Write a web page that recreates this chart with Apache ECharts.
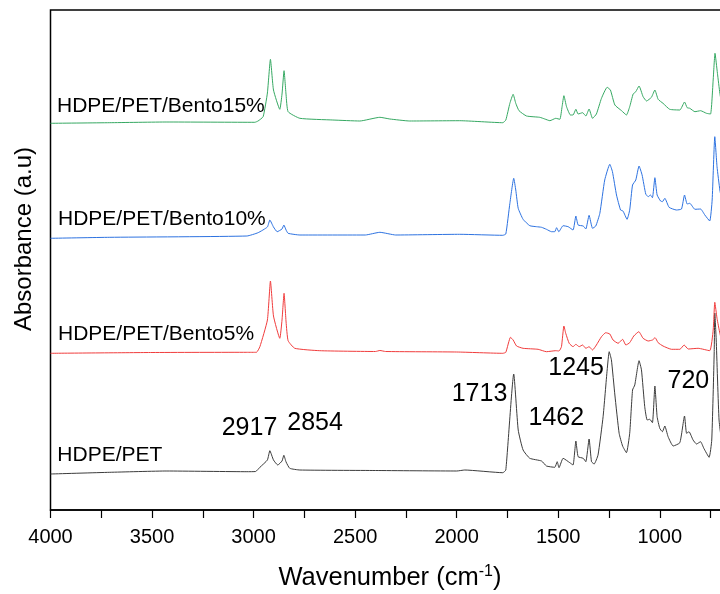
<!DOCTYPE html>
<html>
<head>
<meta charset="utf-8">
<script src="https://cdn.jsdelivr.net/npm/echarts@6/dist/echarts.min.js"></script>
<style>
  html, body { margin: 0; padding: 0; background: #fff; }
  #chart { width: 720px; height: 594px; }
</style>
</head>
<body>
<div id="chart"></div>
<script>
// FTIR spectra, stacked with offsets (a.u.)
const blackWn = [4000, 3708, 3427, 3033, 2990, 2969, 2932, 2920, 2902, 2881, 2860, 2851, 2840, 2822, 2772, 2400, 2000, 1960, 1773, 1758, 1719, 1697, 1673, 1640, 1582, 1558, 1517, 1505, 1496, 1476, 1443, 1427, 1413, 1402, 1377, 1364, 1348, 1336, 1323, 1304, 1279, 1259, 1249, 1238, 1221, 1200, 1183, 1164, 1148, 1134, 1123, 1102, 1090, 1074, 1062, 1049, 1036, 1024, 1013, 1000, 987, 975, 959, 934, 901, 878, 868, 856, 836, 819, 799, 783, 757, 744, 732, 729, 722, 708, 690];
const blackAbs = [0.36, 0.377, 0.39, 0.383, 0.385, 0.427, 0.50, 0.593, 0.50, 0.45, 0.49, 0.547, 0.48, 0.417, 0.40, 0.395, 0.39, 0.40, 0.373, 0.40, 1.36, 0.80, 0.60, 0.517, 0.49, 0.44, 0.427, 0.483, 0.423, 0.517, 0.473, 0.45, 0.69, 0.533, 0.517, 0.483, 0.71, 0.483, 0.46, 0.55, 0.933, 1.40, 1.583, 1.50, 1.15, 0.767, 0.64, 0.573, 0.767, 1.20, 1.25, 1.493, 1.40, 1.033, 0.90, 0.907, 0.873, 1.24, 0.933, 0.817, 0.783, 0.84, 0.733, 0.64, 0.673, 0.94, 0.767, 0.783, 0.70, 0.66, 0.683, 0.617, 0.527, 0.70, 1.57, 1.97, 1.70, 0.90, 0.6];

const redWn = [4000, 3500, 3033, 2986, 2969, 2932, 2917, 2902, 2871, 2860, 2850, 2840, 2830, 2797, 2674, 2400, 2378, 2350, 2000, 1773, 1758, 1735, 1722, 1705, 1673, 1599, 1558, 1512, 1496, 1484, 1472, 1463, 1446, 1427, 1413, 1397, 1380, 1364, 1348, 1331, 1312, 1287, 1266, 1246, 1230, 1205, 1183, 1167, 1148, 1128, 1103, 1082, 1057, 1036, 1023, 1008, 984, 942, 901, 880, 860, 811, 754, 737, 729, 718, 704, 690];
const redAbs = [1.567, 1.575, 1.577, 1.577, 1.633, 1.90, 2.29, 1.94, 1.717, 1.90, 2.167, 1.88, 1.693, 1.617, 1.593, 1.585, 1.595, 1.585, 1.58, 1.567, 1.577, 1.727, 1.70, 1.64, 1.617, 1.607, 1.583, 1.593, 1.59, 1.633, 1.84, 1.767, 1.667, 1.633, 1.657, 1.633, 1.65, 1.617, 1.633, 1.60, 1.65, 1.733, 1.773, 1.76, 1.70, 1.667, 1.707, 1.65, 1.673, 1.74, 1.783, 1.717, 1.69, 1.70, 1.723, 1.673, 1.64, 1.607, 1.607, 1.65, 1.61, 1.617, 1.593, 1.80, 2.077, 1.917, 1.767, 1.65];

const blueWn = [4000, 3708, 3033, 2978, 2932, 2920, 2902, 2884, 2860, 2851, 2840, 2830, 2772, 2450, 2378, 2300, 1985, 1773, 1758, 1738, 1719, 1709, 1697, 1673, 1640, 1607, 1582, 1558, 1533, 1517, 1508, 1497, 1476, 1451, 1427, 1413, 1402, 1377, 1364, 1348, 1331, 1315, 1295, 1271, 1246, 1233, 1213, 1193, 1181, 1161, 1148, 1134, 1118, 1102, 1087, 1069, 1057, 1046, 1036, 1024, 1013, 996, 987, 975, 954, 918, 893, 878, 865, 852, 827, 799, 778, 754, 742, 729, 718, 704, 690];
const blueAbs = [2.717, 2.727, 2.74, 2.773, 2.83, 2.90, 2.83, 2.783, 2.81, 2.85, 2.80, 2.767, 2.75, 2.75, 2.777, 2.75, 2.757, 2.747, 2.76, 3.067, 3.317, 3.20, 3.017, 2.907, 2.843, 2.833, 2.827, 2.807, 2.783, 2.783, 2.823, 2.783, 2.843, 2.833, 2.80, 2.94, 2.85, 2.84, 2.81, 2.947, 2.817, 2.84, 2.967, 3.30, 3.457, 3.383, 3.15, 3.00, 2.99, 2.907, 3.00, 3.25, 3.30, 3.44, 3.35, 3.16, 3.133, 3.15, 3.123, 3.323, 3.15, 3.09, 3.083, 3.117, 3.027, 3.00, 3.01, 3.15, 3.06, 3.067, 3.007, 3.01, 2.95, 2.89, 3.10, 3.733, 3.433, 3.20, 3.05];

const greenWn = [4000, 3708, 3427, 2994, 2978, 2953, 2932, 2917, 2902, 2871, 2860, 2850, 2840, 2830, 2772, 2610, 2477, 2378, 2329, 2231, 1985, 1773, 1758, 1738, 1722, 1709, 1693, 1656, 1591, 1566, 1541, 1512, 1492, 1481, 1472, 1459, 1440, 1427, 1413, 1402, 1380, 1364, 1348, 1331, 1312, 1287, 1259, 1243, 1221, 1188, 1164, 1148, 1131, 1118, 1102, 1082, 1065, 1041, 1024, 1008, 984, 951, 901, 878, 865, 852, 827, 799, 770, 750, 737, 728, 716, 704, 690];
const greenAbs = [3.867, 3.873, 3.88, 3.877, 3.89, 3.933, 4.17, 4.507, 4.20, 4.007, 4.16, 4.393, 4.15, 3.983, 3.917, 3.90, 3.89, 3.927, 3.91, 3.89, 3.893, 3.873, 3.90, 4.067, 4.157, 4.067, 3.993, 3.94, 3.927, 3.91, 3.893, 3.917, 3.907, 4.033, 4.143, 4.033, 3.95, 3.95, 4.007, 3.96, 3.973, 3.94, 4.01, 3.917, 3.96, 4.117, 4.227, 4.20, 4.05, 3.993, 3.95, 4.033, 4.16, 4.183, 4.24, 4.133, 4.09, 4.127, 4.20, 4.107, 4.067, 4.007, 4.00, 4.08, 4.023, 4.017, 3.983, 3.993, 3.967, 3.96, 4.30, 4.567, 4.367, 4.167, 4.0];

const sampleNames = ["HDPE/PET", "HDPE/PET/Bento5%", "HDPE/PET/Bento10%", "HDPE/PET/Bento15%"];
const peakLabels = ["2917", "2854", "1713", "1462", "1245", "720"];

const FONT = '"Liberation Sans", Arial, sans-serif';

function pairs(wn, ab) {
  return wn.map((w, i) => [w, ab[i]]);
}

function spectrum(name, color, wn, ab) {
  return {
    name: name,
    type: "line",
    showSymbol: false,
    smooth: 0.15,
    lineStyle: { color: color, width: 1 },
    itemStyle: { color: color },
    data: pairs(wn, ab),
  };
}

function txt(text, x, y, size) {
  return {
    type: "text",
    x: x,
    y: y,
    style: {
      text: text,
      fill: "#000",
      fontSize: size,
      fontFamily: FONT,
      verticalAlign: "middle",
      align: "left",
    },
  };
}

const chart = echarts.init(document.getElementById("chart"));
chart.setOption({
  animation: false,
  backgroundColor: "#fff",
  grid: {
    left: 50.5,
    top: 10,
    right: -41.3,
    bottom: 84,
    outerBoundsMode: "none",
    containLabel: false,
    show: true,
    borderColor: "#000",
    borderWidth: 1.5,
  },
  xAxis: {
    type: "value",
    inverse: true,
    min: 500,
    max: 4000,
    interval: 500,
    axisLine: { show: true, lineStyle: { color: "#000", width: 1.5 } },
    axisTick: { show: true, length: 8, lineStyle: { color: "#000", width: 1.2 } },
    minorTick: { show: true, splitNumber: 2, length: 8, lineStyle: { color: "#000", width: 1.2 } },
    splitLine: { show: false },
    axisLabel: {
      color: "#000",
      fontSize: 20,
      fontFamily: FONT,
      margin: 17,
      formatter: v => String(v),
    },
    name: "{a|Wavenumber (cm}{s|-1}{a|)}",
    nameLocation: "middle",
    nameGap: 54,
    nameTextStyle: {
      padding: [0, 32, 0, 0],
      rich: {
        a: { fontSize: 25.5, fontFamily: FONT, color: "#000" },
        s: { fontSize: 16, fontFamily: FONT, color: "#000", verticalAlign: "top", padding: [0, 0, 11, 0] },
      },
    },
  },
  yAxis: {
    type: "value",
    min: 0,
    max: 5,
    axisLine: { show: false },
    axisTick: { show: false },
    axisLabel: { show: false },
    splitLine: { show: false },
    name: "Absorbance (a.u)",
    nameLocation: "middle",
    nameGap: 14,
    nameTextStyle: { fontSize: 24, fontFamily: FONT, color: "#000", padding: [0, 0, 0, 42] },
  },
  series: [
    spectrum(sampleNames[0], "#3c3c3c", blackWn, blackAbs),
    spectrum(sampleNames[1], "#f03c3c", redWn, redAbs),
    spectrum(sampleNames[2], "#2d72e0", blueWn, blueAbs),
    spectrum(sampleNames[3], "#36a862", greenWn, greenAbs),
  ],
  graphic: [
    txt(sampleNames[3], 57, 106, 21),
    txt(sampleNames[2], 58, 219.4, 21),
    txt(sampleNames[1], 58, 334.4, 21),
    txt(sampleNames[0], 57.3, 455, 21),
    txt(peakLabels[0], 221.7, 428, 25),
    txt(peakLabels[1], 287.3, 423, 25),
    txt(peakLabels[2], 451.7, 394, 25),
    txt(peakLabels[3], 528.5, 418, 25),
    txt(peakLabels[4], 548.3, 368, 25),
    txt(peakLabels[5], 667.5, 381.3, 25),
  ],
});
</script>
</body>
</html>
